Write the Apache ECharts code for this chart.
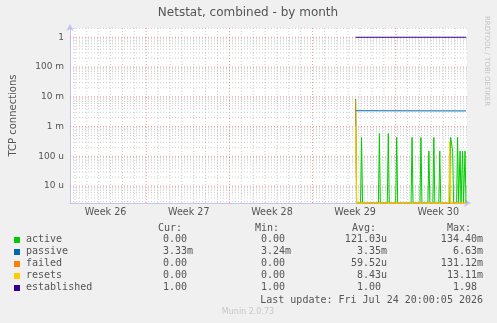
<!DOCTYPE html>
<html><head><meta charset="utf-8">
<script src="https://cdn.jsdelivr.net/npm/echarts@6/dist/echarts.min.js"></script>
<style>html,body{margin:0;padding:0;background:#f0f0f0;}#c{width:497px;height:323px;}</style>
</head><body><div id="c"></div>
<script>
// ---------- data (x = hours from left edge of plot, 2h per pixel) ----------
const weekLabels = ['Week 26', 'Week 27', 'Week 28', 'Week 29', 'Week 30'];
const weekLabelHours = [72, 240, 408, 576, 744];
const weekStartHours = [154, 322, 490, 658];
const yTickValues = [1e-5, 1e-4, 1e-3, 1e-2, 1e-1, 1];
const yTickLabels = ['10 u', '100 u', '1 m', '10 m', '100 m', '1'];

const activeData = [[577, 8.5e-3], [579, 0], [587, 0], [589, 4.3e-4], [591, 0], [623, 0], [625, 5.8e-4], [627, 0],
  [641, 0], [643, 5.8e-4], [645, 0], [658, 0], [660, 4.3e-4], [662, 0], [689, 0], [691, 4.3e-4], [693, 0],
  [707, 0], [709, 4.3e-4], [711, 0], [723, 0], [725, 1.5e-4], [727, 0], [733, 0], [735, 4.3e-4], [737, 0],
  [745, 0], [747, 1.5e-4], [749, 0], [767, 0], [769, 4.3e-4], [771, 4.3e-4], [773, 1.5e-4], [775, 0],
  [781, 0], [783, 4.3e-4], [785, 0], [786, 0], [788, 1.5e-4], [790, 0], [791, 0], [793, 1.5e-4], [795, 0],
  [796, 0], [798, 1.5e-4], [800, 0]];
const passiveData = [[577, 3.4e-3], [800, 3.35e-3]];
const failedData = [[577, 7.5e-3], [579, 0], [800, 0]];
const resetsData = [[577, 1.0e-3], [579, 0], [765, 0], [767, 3.0e-4], [769, 0], [800, 0]];
const establishedData = [[577, 1], [800, 1]];

const legendNames = ['active', 'passive', 'failed', 'resets', 'established'];
const curVals = ['0.00', '3.33m', '0.00', '0.00', '1.00'];
const minVals = ['0.00', '3.24m', '0.00', '0.00', '1.00'];
const avgVals = ['121.03u', '3.35m', '59.52u', '8.43u', '1.00'];
const maxVals = ['134.40m', '6.63m', '131.12m', '13.11m', '1.98'];
const lastUpdate = 'Last update: Fri Jul 24 20:00:05 2026';

// ---------- styling ----------
const COLORS = ['#00cc00', '#0066b3', '#ff8000', '#ffcc00', '#330099'];
const Y_MIN = 2.7e-6, Y_MAX = 2.05, X_MAX = 802;
const AXIS_C = '#c4c4f0';
const TXT = '#555';
const MONO = '10px "DejaVu Sans Mono", monospace';

const chart = echarts.init(document.getElementById('c'), null, {renderer: 'canvas'});

const z2floor = d => d.map(p => [p[0], p[1] === 0 ? Y_MIN : p[1]]);

// grid lines (drawn as broken polylines through the axes)
const minorV = [], majorV = [], minorH = [], majorH = [];
for (let h = 10; h < X_MAX; h += 24) if (weekStartHours.indexOf(h) < 0) minorV.push([h, Y_MIN], [h, Y_MAX], '-');
weekStartHours.forEach(h => majorV.push([h, Y_MIN], [h, Y_MAX], '-'));
for (let e = -6; e <= 0; e++) for (let m = 2; m <= 9; m++) {
  const v = m * Math.pow(10, e);
  if (v > Y_MIN && v < Y_MAX) minorH.push([0, v], [X_MAX, v], '-');
}
yTickValues.forEach(v => majorH.push([0, v], [X_MAX, v], '-'));

const gridSeries = (data, color) => ({
  type: 'line', data: data, silent: true, z: 1, showSymbol: false, symbol: 'none',
  connectNulls: false, animation: false, clip: true,
  lineStyle: {color: color, type: [1, 2], width: 1}, emphasis: {disabled: true}
});

const lineSeries = (name, data, color) => ({
  name, type: 'line', data: z2floor(data), showSymbol: false, symbol: 'none',
  clip: false, z: 3, animation: false,
  lineStyle: {color, width: 1}, itemStyle: {color}
});

// graphic texts
const graphic = [];
graphic.push({type: 'text', x: 248, y: 13, style: {text: 'Netstat, combined - by month', fill: TXT,
  font: '12px "DejaVu Sans", sans-serif', align: 'center', verticalAlign: 'middle'}});
graphic.push({type: 'text', x: 487, y: 16, rotation: -Math.PI / 2, style: {text: 'RRDTOOL / TOBI OETIKER',
  fill: '#c4c4c4', font: '7px "DejaVu Sans", sans-serif', align: 'left', verticalAlign: 'middle'}});
const headers = [['Cur:', 158], ['Min:', 255], ['Avg:', 352], ['Max:', 447]];
headers.forEach(hd => graphic.push({type: 'text', x: hd[1], y: 228,
  style: {text: hd[0], fill: TXT, font: MONO, align: 'left', verticalAlign: 'middle'}}));
const colRight = [193, 291, 387, 483];
const rowY = [239.5, 251.5, 263.5, 275.5, 287.5];
const cols = [curVals, minVals, avgVals, maxVals];
legendNames.forEach((n, i) => {
  const y = rowY[i];
  graphic.push({type: 'rect', shape: {x: 14, y: Math.round(y) - 3, width: 6, height: 6},
    style: {fill: COLORS[i]}});
  graphic.push({type: 'text', x: 26, y, style: {text: n, fill: TXT, font: MONO, align: 'left', verticalAlign: 'middle'}});
  cols.forEach((arr, c) => {
    const s = arr[i];
    const unit = /[0-9]$/.test(s) ? 0 : 1;
    graphic.push({type: 'text', x: colRight[c] - (unit ? 0 : 6), y,
      style: {text: s, fill: TXT, font: MONO, align: 'right', verticalAlign: 'middle'}});
  });
});
graphic.push({type: 'text', x: 483, y: 300, style: {text: lastUpdate, fill: TXT, font: MONO, align: 'right', verticalAlign: 'middle'}});
graphic.push({type: 'text', x: 248, y: 312, style: {text: 'Munin 2.0.73', fill: '#c8c8c8',
  font: '8px "DejaVu Sans", sans-serif', align: 'center', verticalAlign: 'middle'}});

chart.setOption({
  animation: false,
  backgroundColor: '#f0f0f0',
  grid: {left: 66, right: 30, top: 28, bottom: 120, show: true, backgroundColor: '#ffffff', borderWidth: 0, containLabel: false},
  xAxis: {
    type: 'value', min: 0, max: X_MAX,
    axisLine: {show: true, lineStyle: {color: AXIS_C, width: 1}, symbol: ['none', 'arrow'], symbolSize: [6, 7], symbolOffset: [0, 4]},
    axisTick: {show: false},
    splitLine: {show: false},
    axisLabel: {
      customValues: weekLabelHours,
      formatter: v => { const i = weekLabelHours.indexOf(Math.round(v)); return i >= 0 ? weekLabels[i] : ''; },
      color: TXT, fontFamily: '"DejaVu Sans", sans-serif', fontSize: 9.6, margin: 4
    }
  },
  yAxis: {
    type: 'log', logBase: 10, min: Y_MIN, max: Y_MAX,
    name: 'TCP connections', nameLocation: 'middle', nameGap: 52,
    nameTextStyle: {color: TXT, fontFamily: '"DejaVu Sans", sans-serif', fontSize: 10},
    axisLine: {show: true, lineStyle: {color: AXIS_C, width: 1}, symbol: ['none', 'arrow'], symbolSize: [6, 7], symbolOffset: [0, 4]},
    axisTick: {show: false},
    splitLine: {show: false},
    minorSplitLine: {show: false},
    axisLabel: {
      showMinLabel: false, showMaxLabel: false,
      color: TXT, fontFamily: '"DejaVu Sans", sans-serif', fontSize: 9, margin: 6,
      formatter: v => {
        const lv = Math.log10(v);
        const e = Math.round(lv);
        if (Math.abs(lv - e) > 1e-6) return '';
        const i = yTickValues.findIndex(t => Math.abs(Math.log10(t) - e) < 1e-6);
        return i >= 0 ? yTickLabels[i] : '';
      }
    }
  },
  graphic: graphic,
  series: [
    gridSeries(minorV, 'rgba(190,190,190,0.75)'),
    gridSeries(minorH, 'rgba(190,190,190,0.75)'),
    gridSeries(majorV, 'rgba(235,120,120,0.75)'),
    gridSeries(majorH, 'rgba(235,120,120,0.75)'),
    lineSeries('active', activeData, COLORS[0]),
    lineSeries('passive', passiveData, COLORS[1]),
    lineSeries('failed', failedData, COLORS[2]),
    lineSeries('resets', resetsData, COLORS[3]),
    lineSeries('established', establishedData, COLORS[4])
  ]
});
</script></body></html>
